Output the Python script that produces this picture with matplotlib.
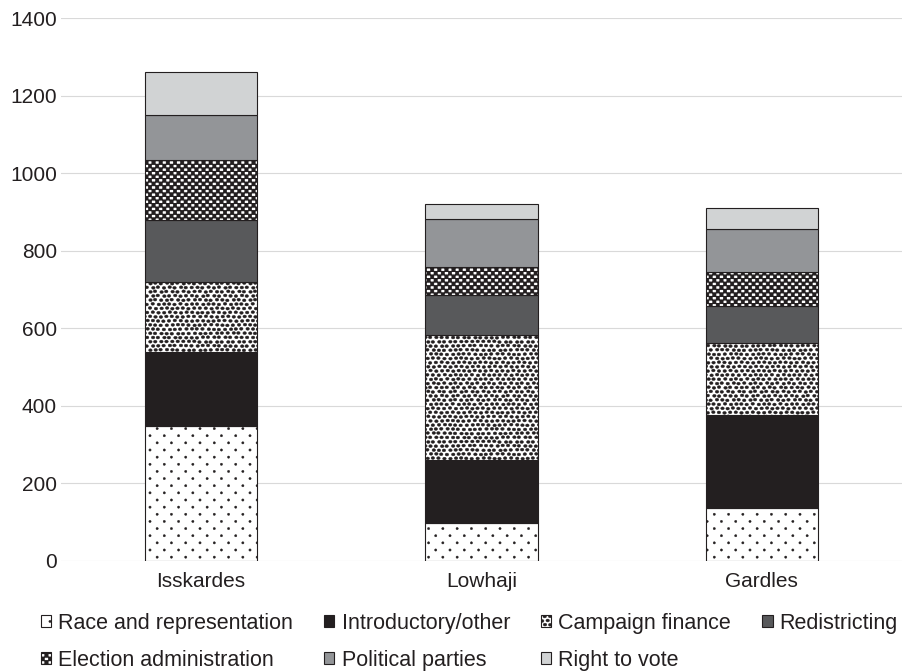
import numpy as np
import matplotlib
matplotlib.use('Agg')
import matplotlib.pyplot as plt
import matplotlib.hatch as mhatch
from matplotlib.path import Path

# ---------------- data ----------------
categories = ['Isskardes', 'Lowhaji', 'Gardles']
race = [348, 98, 136]
introductory = [190, 161, 240]
campaign = [181, 322, 186]
redistricting = [160, 105, 95]
election = [155, 72, 87]
parties = [117, 125, 112]
right_to_vote = [110, 38, 54]

series_names = ['Race and representation', 'Introductory/other', 'Campaign finance',
                'Redistricting', 'Election administration', 'Political parties',
                'Right to vote']
series_values = [race, introductory, campaign, redistricting, election, parties, right_to_vote]
yticks = [0, 200, 400, 600, 800, 1000, 1200, 1400]

# ---------------- styles ----------------
face_colors = ['white', '#231f20', 'white', '#58595b', 'white', '#939598', '#d1d3d4']
hatches = ['.', None, 'o', None, 'O', None, None]
EDGE = '#231f20'
TEXT = '#231f20'

plt.rcParams['font.family'] = ['Liberation Sans', 'DejaVu Sans']
plt.rcParams['hatch.linewidth'] = 0.3

# ---------------- custom hatch textures ----------------
TILE = 100.0  # hatch tile in px at dpi 100


def ellipse(cx, cy, rx, ry, n=14):
    t = np.linspace(0, 2 * np.pi, n, endpoint=False)
    return np.column_stack([cx + rx * np.cos(t), cy + ry * np.sin(t)]) / TILE


def rect(x0, y0, x1, y1):
    return np.array([[x0, y0], [x1, y0], [x1, y1], [x0, y1]]) / TILE


def stagger_dots(cols, rows, rx, ry, jitter=0.0):
    w = TILE / cols
    h = TILE / rows
    polys = []
    for j in range(rows + 1):
        if j % 2 == 0:
            xs = [(i, i * w) for i in range(cols + 1)]
        else:
            xs = [(i, (i + 0.5) * w) for i in range(cols)]
        for i, x in xs:
            dx = dy = 0.0
            if jitter:
                a = i % cols
                b = j % rows
                dx = jitter * np.sin(2.3 * a + 1.7 * b + 0.5 * a * b)
                dy = 0.7 * jitter * np.cos(1.9 * a - 2.9 * b + 0.3 * a * b)
            polys.append(ellipse(x + dx, j * h + dy, rx, ry))
    return polys


def checker_complement(cols, rows, sq_w, sq_h):
    w = TILE / cols
    h = TILE / rows
    g = h - sq_h
    polys = []
    for j in range(rows + 1):
        polys.append(rect(-1, j * h - g / 2, TILE + 1, j * h + g / 2))
    for j in range(rows):
        y0 = j * h + g / 2
        y1 = (j + 1) * h - g / 2
        if j % 2 == 0:
            centers = [i * w for i in range(cols + 1)]
        else:
            centers = [(i + 0.5) * w for i in range(-1, cols + 1)]
        for c0, c1 in zip(centers[:-1], centers[1:]):
            polys.append(rect(c0 + sq_w / 2, y0, c1 - sq_w / 2, y1))
    return polys


_PATTERNS = {
    '.': stagger_dots(7, 14, 1.15, 1.15),
    'o': stagger_dots(18, 24, 1.8, 1.45, jitter=0.55),
    'O': checker_complement(14, 28, 3.6, 3.0),
}


def make_hatch_class(ch):
    polys_all = _PATTERNS[ch]

    class PolyHatch(mhatch.HatchPatternBase):
        def __init__(self, hatch, density):
            self.polys = polys_all if (hatch and ch in hatch) else []
            self.num_vertices = sum(len(p) + 1 for p in self.polys)

        def set_vertices_and_codes(self, vertices, codes):
            k = 0
            for p in self.polys:
                n = len(p)
                vertices[k:k + n] = p
                vertices[k + n] = p[0]
                codes[k] = Path.MOVETO
                codes[k + 1:k + n] = Path.LINETO
                codes[k + n] = Path.CLOSEPOLY
                k += n + 1

    return PolyHatch


mhatch._hatch_types = [make_hatch_class(c) for c in _PATTERNS]

# ---------------- figure ----------------
W, H = 902, 671
fig = plt.figure(figsize=(W / 100, H / 100), dpi=100)
ax_left, ax_right = 61, 902
ax_bottom, ax_top = 560.5, 18.3
ax = fig.add_axes([ax_left / W, 1 - ax_bottom / H, (ax_right - ax_left) / W,
                   (ax_bottom - ax_top) / H])

x = np.arange(len(categories))
bottom = np.zeros(len(categories))
containers = []
for name, vals, fc, ht in zip(series_names, series_values, face_colors, hatches):
    bc = ax.bar(x, vals, width=0.4, bottom=bottom, color=fc, edgecolor=EDGE,
                linewidth=0.8, hatch=ht, label=name, zorder=3)
    containers.append(bc)
    bottom = bottom + np.array(vals)

ax.set_xlim(-0.5, len(categories) - 0.5)
ax.set_ylim(0, 1400)
ax.set_yticks(yticks)
ax.set_yticklabels([str(t) for t in yticks])
ax.set_xticks(x)
ax.set_xticklabels(categories)
ax.tick_params(axis='both', length=0, labelsize=15, colors=TEXT)
ax.tick_params(axis='y', pad=3)
ax.tick_params(axis='x', pad=8)
for s in ax.spines.values():
    s.set_visible(False)
ax.yaxis.grid(True, color='#d9d9d9', linewidth=0.8, zorder=0)
ax.set_axisbelow(True)

# legend in row-major order (matplotlib fills column-first)
order = [0, 4, 1, 5, 2, 6, 3]
handles = [containers[i] for i in order]
labels = [series_names[i] for i in order]
leg = fig.legend(handles, labels, loc='upper left', bbox_to_anchor=(41.0 / W, 1 - 613.0 / H),
                 ncol=4, frameon=False, fontsize=15.5, handlelength=0.47,
                 handleheight=0.47, handletextpad=0.33, columnspacing=1.45,
                 labelspacing=0.74, borderpad=0, borderaxespad=0)
for t in leg.get_texts():
    t.set_color(TEXT)

fig.savefig('out.png', dpi=100)
